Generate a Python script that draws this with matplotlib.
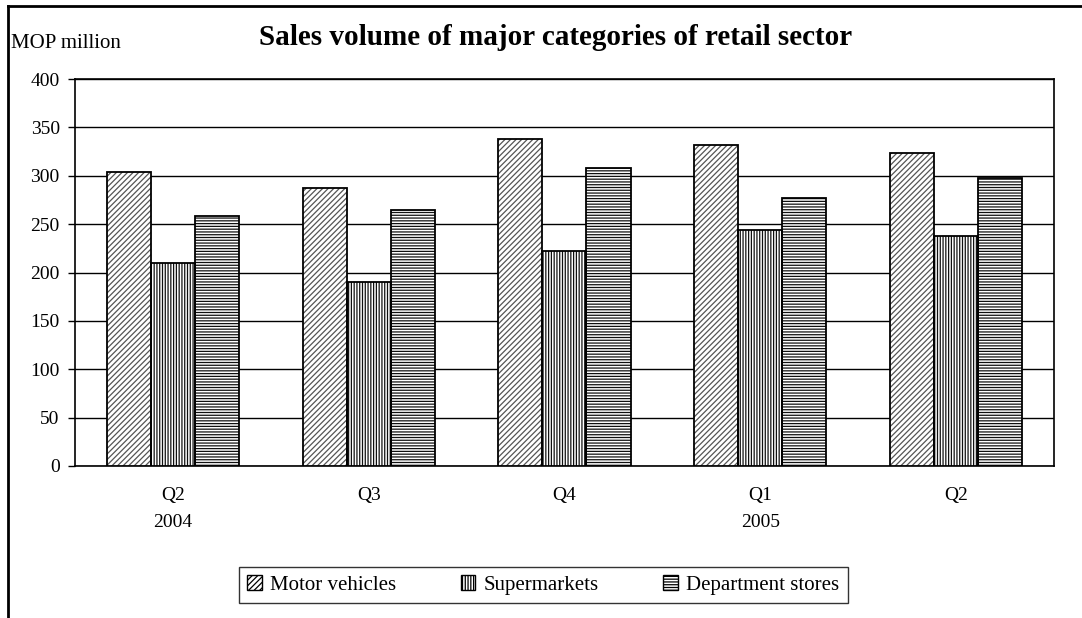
import matplotlib
matplotlib.use("Agg")
import matplotlib.pyplot as plt
import numpy as np
from matplotlib.patches import Patch
from matplotlib.lines import Line2D

plt.rcParams['font.family'] = ['Liberation Serif', 'DejaVu Serif']
plt.rcParams['hatch.linewidth'] = 0.9

quarters = ["Q2\n2004", "Q3", "Q4", "Q1\n2005", "Q2"]
series = ["Motor vehicles", "Supermarkets", "Department stores"]
motor = [304, 287, 338, 332, 324]
supermarkets = [210, 190, 222, 244, 238]
department = [258, 265, 308, 277, 298]

hatches = ["//////", "||||||", "------"]
hatch_cols = ["#555555", "#111111", "#111111"]

fig = plt.figure(figsize=(10.82, 6.18), dpi=100)
ax = fig.add_axes([0.0693, 0.246, 0.9047, 0.626])

x = np.arange(len(quarters))
w = 0.225
for i, vals in enumerate([motor, supermarkets, department]):
    pos = x + (i - 1) * w
    ax.bar(pos, vals, w, color="white", edgecolor=hatch_cols[i], hatch=hatches[i], linewidth=0, zorder=3)
    ax.bar(pos, vals, w, fill=False, edgecolor="black", linewidth=1.3, zorder=4)

ax.set_xlim(-0.5, len(quarters) - 0.5)
ax.set_ylim(0, 400)
ax.set_yticks(range(0, 401, 50))
ax.set_xticks(x)
ax.set_xticklabels(quarters, fontsize=14, linespacing=1.8)
ax.tick_params(axis="x", length=0, pad=15)
ax.tick_params(axis="y", labelsize=14, length=5, width=1, pad=6)
ax.yaxis.grid(True, color="black", linewidth=1)
ax.set_axisbelow(True)
for s in ax.spines.values():
    s.set_linewidth(1.2)

fig.text(0.513, 0.94, "Sales volume of major categories of retail sector", ha="center", va="center",
         fontsize=21, fontweight="bold")
fig.text(0.010, 0.929, "MOP million", ha="left", va="center", fontsize=15)

handles = [Patch(facecolor="white", edgecolor="black", hatch=h, linewidth=1) for h in hatches]
leg = ax.legend(handles, series, loc="center", bbox_to_anchor=(0.502, 0.0534), bbox_transform=fig.transFigure,
                ncol=3, fontsize=15, frameon=True, fancybox=False, edgecolor="black",
                handlelength=0.7, handleheight=0.7, handletextpad=0.4, columnspacing=3.1, borderpad=0.4,
                borderaxespad=0)
leg.get_frame().set_linewidth(1)

# outer chart border (top and left)
fig.add_artist(Line2D([0.0075, 1.0], [0.99, 0.99], transform=fig.transFigure, color="black", linewidth=2))
fig.add_artist(Line2D([0.0075, 0.0075], [0.0, 0.99], transform=fig.transFigure, color="black", linewidth=2))

fig.savefig("out.png", dpi=100)
